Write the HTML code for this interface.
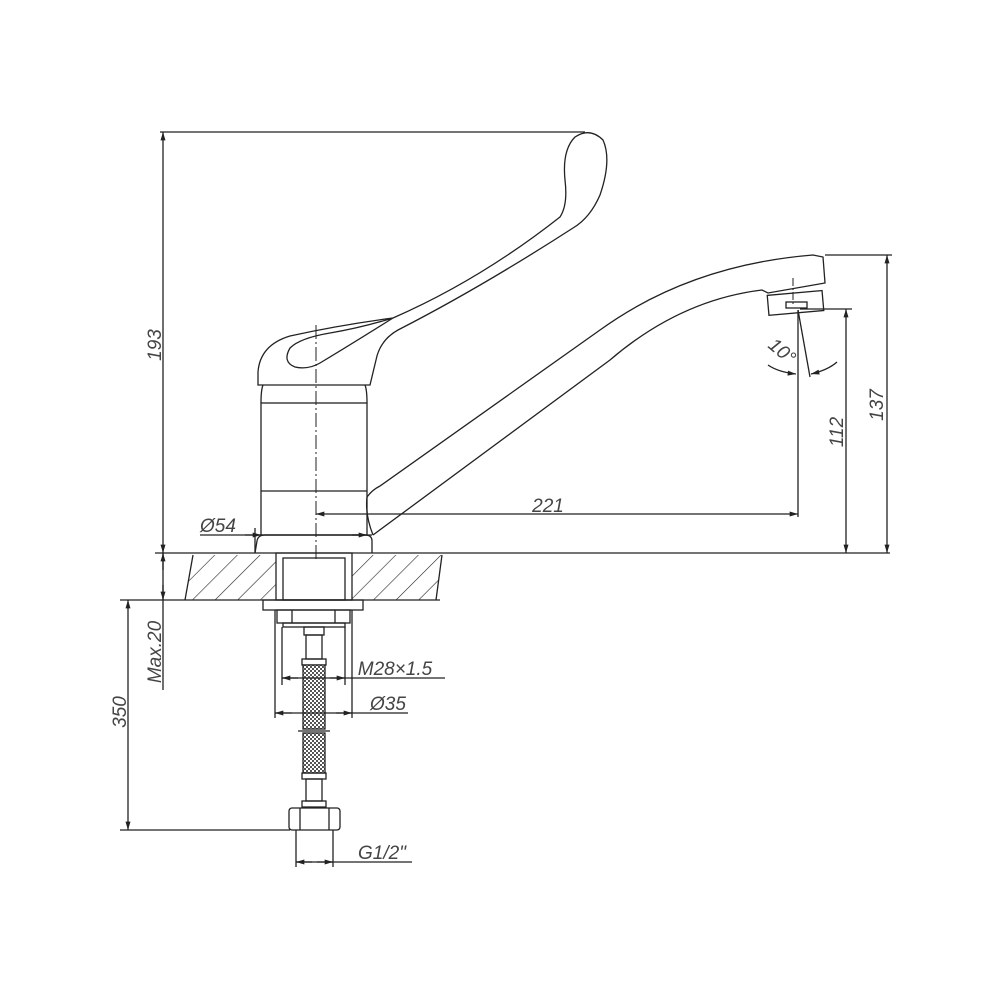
<!DOCTYPE html>
<html><head><meta charset="utf-8"><style>html,body{margin:0;padding:0;background:#fff}svg{display:block}
text{font-family:"Liberation Sans",sans-serif;font-style:italic;fill:#444;font-size:19px}</style></head><body>
<svg width="1000" height="1000" viewBox="0 0 1000 1000" xmlns="http://www.w3.org/2000/svg">
<defs>
<marker id="a" viewBox="0 0 10 6" refX="10" refY="3" markerWidth="12" markerHeight="5" orient="auto-start-reverse" markerUnits="userSpaceOnUse"><path d="M0,0L10,3L0,6z" fill="#222"/></marker>
<pattern id="h" width="16" height="16" patternUnits="userSpaceOnUse" patternTransform="rotate(45)"><line x1="0" y1="0" x2="0" y2="16" stroke="#222" stroke-width="1.2"/></pattern>
<pattern id="m" width="4" height="4" patternUnits="userSpaceOnUse"><rect width="4" height="4" fill="#fff"/><rect width="2" height="2" fill="#555"/><rect x="2" y="2" width="2" height="2" fill="#555"/></pattern>
</defs>
<g stroke="#222" stroke-width="1.3" fill="none">
<path d="M193,555 L185,600 L276,600 L276,555Z" fill="url(#h)" stroke="none"/>
<path d="M352,555 L442,555 L436,600 L352,600Z" fill="url(#h)" stroke="none"/>
<line x1="155" y1="553" x2="890" y2="553"/>
<line x1="185" y1="600" x2="440" y2="600"/>
<path d="M193,555 L185,600"/><path d="M442,555 L436,600"/>
<line x1="120" y1="600" x2="185" y2="600"/>
<rect x="276" y="553" width="76" height="47"/>
<rect x="283" y="558" width="62" height="42"/>
<rect x="263" y="600" width="100" height="10"/>
<rect x="277" y="610" width="73" height="13"/>
<line x1="292" y1="610" x2="292" y2="623"/><line x1="335" y1="610" x2="335" y2="623"/>
<rect x="283" y="623" width="62" height="4"/>
<rect x="304" y="627" width="20" height="8"/>
<rect x="306" y="635" width="16" height="24"/>
<rect x="302" y="659" width="24" height="6"/>
<rect x="303" y="665" width="22" height="64" fill="url(#m)"/>
<line x1="298" y1="731" x2="330" y2="731"/>
<rect x="303" y="733" width="22" height="40" fill="url(#m)"/>
<rect x="302" y="773" width="24" height="6"/>
<rect x="306" y="779" width="16" height="22"/>
<rect x="302" y="801" width="24" height="6"/>
<rect x="289" y="808" width="51" height="22" rx="3"/>
<line x1="300" y1="808" x2="300" y2="830"/><line x1="329" y1="808" x2="329" y2="830"/>
<path d="M255,553 L257,541 Q258,535 265,535 L365,535 Q372,535 372,541 L372,553"/>
<rect x="261" y="403" width="106" height="132"/>
<line x1="261" y1="491" x2="367" y2="491"/>
<path d="M261,403 Q261,390 263,385 M367,403 Q367,390 365,385"/>
<path d="M258,385 L258,372 Q260,345 290,336 Q340,325 393,318 Q480,280 560,217 Q568,205 565,180 Q562,150 575,137 Q590,127 603,140 Q612,160 600,195 Q590,218 573,228 Q480,288 398,330 Q380,340 376,360 L370,385 Z"/>
<path d="M295,367 Q282,362 290,348 Q300,338 330,333 Q360,328 393,318 Q350,345 320,363 Q308,370 295,367Z"/>
<path d="M367,497 Q372,490 380,486 L600,330 Q690,265 813,255 L823,257 L825,283 L768,293 L762,290 Q680,300 610,360 L373,535"/>
<path d="M373,535 Q365,515 367,497"/>
<rect x="768" y="293" width="55" height="20" transform="rotate(-5 795 303)"/>
<rect x="786" y="302" width="21" height="6"/>
<line x1="316" y1="325" x2="316" y2="560" stroke-dasharray="14,3,2,3" stroke-width="1"/>
<line x1="793" y1="278" x2="793" y2="305" stroke-dasharray="8,2,2,2" stroke-width="1"/>
<line x1="160" y1="132" x2="585" y2="132"/>
<line x1="163" y1="132" x2="163" y2="553" marker-start="url(#a)" marker-end="url(#a)"/>
<line x1="163" y1="553" x2="163" y2="690"/>
<line x1="163" y1="570" x2="163" y2="553" marker-end="url(#a)"/>
<line x1="163" y1="585" x2="163" y2="600" marker-end="url(#a)"/>
<line x1="128" y1="830" x2="128" y2="600" marker-start="url(#a)" marker-end="url(#a)"/>
<line x1="120" y1="830" x2="290" y2="830"/>
<line x1="825" y1="255" x2="892" y2="255"/>
<line x1="887" y1="553" x2="887" y2="255" marker-start="url(#a)" marker-end="url(#a)"/>
<line x1="800" y1="309" x2="852" y2="309"/>
<line x1="846" y1="553" x2="846" y2="309" marker-start="url(#a)" marker-end="url(#a)"/>
<line x1="798" y1="310" x2="798" y2="517"/>
<line x1="798" y1="310" x2="810" y2="377"/>
<path d="M768,365 Q778,372 796,374" marker-end="url(#a)"/>
<path d="M837,362 Q828,370 811,374" marker-end="url(#a)"/>
<line x1="316" y1="514" x2="798" y2="514" marker-start="url(#a)" marker-end="url(#a)"/>
<line x1="255" y1="528" x2="255" y2="553"/>
<line x1="200" y1="535" x2="372" y2="535"/>
<line x1="245" y1="535" x2="261" y2="535" marker-end="url(#a)"/>
<line x1="352" y1="535" x2="367" y2="535" marker-end="url(#a)"/>
<line x1="282" y1="627" x2="282" y2="685"/><line x1="345" y1="627" x2="345" y2="685"/>
<line x1="282" y1="678" x2="445" y2="678"/>
<line x1="298" y1="678" x2="282" y2="678" marker-end="url(#a)"/>
<line x1="330" y1="678" x2="345" y2="678" marker-end="url(#a)"/>
<line x1="275" y1="610" x2="275" y2="718"/><line x1="352" y1="610" x2="352" y2="718"/>
<line x1="275" y1="713" x2="408" y2="713"/>
<line x1="292" y1="713" x2="275" y2="713" marker-end="url(#a)"/>
<line x1="336" y1="713" x2="352" y2="713" marker-end="url(#a)"/>
<line x1="296" y1="830" x2="296" y2="867"/><line x1="333" y1="830" x2="333" y2="867"/>
<line x1="296" y1="862" x2="412" y2="862"/>
<line x1="312" y1="862" x2="296" y2="862" marker-end="url(#a)"/>
<line x1="317" y1="862" x2="333" y2="862" marker-end="url(#a)"/>
</g>
<text x="548" y="512" text-anchor="middle">221</text>
<text x="218" y="532" text-anchor="middle">Ø54</text>
<text x="395" y="675" text-anchor="middle">M28×1.5</text>
<text x="388" y="710" text-anchor="middle">Ø35</text>
<text x="382" y="859" text-anchor="middle">G1/2"</text>
<text transform="translate(778,356) rotate(40)" text-anchor="middle">10°</text>
<text transform="translate(161,345) rotate(-90)" text-anchor="middle">193</text>
<text transform="translate(161,652) rotate(-90)" text-anchor="middle">Max.20</text>
<text transform="translate(126,712) rotate(-90)" text-anchor="middle">350</text>
<text transform="translate(843,432) rotate(-90)" text-anchor="middle">112</text>
<text transform="translate(883,405) rotate(-90)" text-anchor="middle">137</text>
</svg>
</body></html>
